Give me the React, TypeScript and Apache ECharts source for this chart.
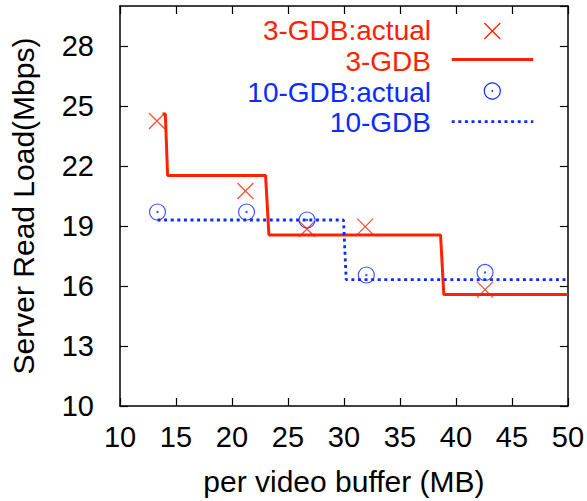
import React, { useEffect, useRef } from "react";
import * as echarts from "echarts";

const RED = "#ff2200";
const BLUE = "#0a2cff";
const FONT = "Liberation Sans";

// 3-GDB measured points
const redActualX = [13.3, 21.2, 26.7, 31.9, 42.6];
const redActualY = [24.25, 20.75, 18.85, 18.97, 15.82];
// 10-GDB measured points
const blueActualX = [13.35, 21.3, 26.7, 32.0, 42.6];
const blueActualY = [19.7, 19.7, 19.3, 16.55, 16.68];
// 3-GDB model (step)
const redLineX = [13.8, 14.05, 14.25, 23.0, 23.3, 38.63, 38.92, 50];
const redLineY = [24.6, 24.6, 21.53, 21.53, 18.55, 18.55, 15.57, 15.57];
// 10-GDB model (step)
const blueLineX = [13.35, 29.96, 30.2, 50];
const blueLineY = [19.3, 19.3, 16.32, 16.32];

const legendLabels = ["3-GDB:actual", "3-GDB", "10-GDB:actual", "10-GDB"];

const zip = (xs: number[], ys: number[]) => xs.map((x, i) => [x, ys[i]]);

const CROSS = "path://M0,0L16,16M16,0L0,16";
const CIRCLE =
  "path://M0,-8A8,8,0,1,1,0,8A8,8,0,1,1,0,-8ZM0,-0.6A0.6,0.6,0,1,1,0,0.6A0.6,0.6,0,1,1,0,-0.6Z";

export default function App() {
  const ref = useRef<HTMLDivElement>(null);
  useEffect(() => {
    if (!ref.current) return;
    const chart = echarts.init(ref.current, null, { renderer: "svg" });
    const axisLine = { show: true, lineStyle: { color: "#000", width: 1.5 } };
    const tick = { show: true, inside: true, length: 8, lineStyle: { color: "#000", width: 1.2 } };
    const legendRows = [30.5, 61, 92, 122.5];
    const legendColors = [RED, RED, BLUE, BLUE];
    const symX = 492.3;
    chart.setOption({
      animation: false,
      backgroundColor: "#fff",
      grid: { left: 117, right: 17, top: 6, bottom: 92, containLabel: false },
      xAxis: [
        {
          type: "value",
          min: 10,
          max: 50,
          interval: 5,
          position: "bottom",
          name: "per video buffer (MB)",
          nameLocation: "middle",
          nameGap: 60,
          nameTextStyle: { fontFamily: FONT, fontSize: 30, color: "#000" },
          axisLine,
          axisTick: tick,
          splitLine: { show: false },
          axisLabel: { fontFamily: FONT, fontSize: 29, color: "#000", margin: 16 },
        },
        {
          type: "value",
          min: 10,
          max: 50,
          interval: 5,
          position: "top",
          axisLine,
          axisTick: tick,
          splitLine: { show: false },
          axisLabel: { show: false },
        },
      ],
      yAxis: [
        {
          type: "value",
          min: 10,
          max: 30,
          interval: 3,
          position: "left",
          name: "Server Read Load(Mbps)",
          nameLocation: "middle",
          nameGap: 82,
          nameTextStyle: { fontFamily: FONT, fontSize: 30, color: "#000" },
          axisLine,
          axisTick: tick,
          splitLine: { show: false },
          axisLabel: {
            fontFamily: FONT,
            fontSize: 29,
            color: "#000",
            margin: 26,
            showMaxLabel: false,
          },
        },
        {
          type: "value",
          min: 10,
          max: 30,
          interval: 3,
          position: "right",
          axisLine,
          axisTick: tick,
          splitLine: { show: false },
          axisLabel: { show: false },
        },
      ],
      series: [
        {
          name: "3-GDB",
          type: "line",
          data: zip(redLineX, redLineY),
          showSymbol: false,
          lineStyle: { color: RED, width: 3 },
          z: 2,
        },
        {
          name: "10-GDB",
          type: "line",
          data: zip(blueLineX, blueLineY),
          showSymbol: false,
          lineStyle: { color: BLUE, width: 2.8, type: [3, 3.6] },
          z: 2,
        },
        {
          name: "3-GDB:actual",
          type: "scatter",
          data: zip(redActualX, redActualY),
          symbol: CROSS,
          symbolSize: 16,
          itemStyle: { color: "transparent", borderColor: RED, borderWidth: 1.3 },
          z: 3,
        },
        {
          name: "10-GDB:actual",
          type: "scatter",
          data: zip(blueActualX, blueActualY),
          symbol: CIRCLE,
          symbolSize: 16,
          itemStyle: { color: "transparent", borderColor: BLUE, borderWidth: 1.2 },
          z: 3,
        },
      ],
      graphic: [
        ...legendLabels.map((t, i) => ({
          type: "text",
          x: 431,
          y: legendRows[i],
          style: {
            text: t,
            fill: legendColors[i],
            fontFamily: FONT,
            fontSize: 28,
            lineHeight: 28,
            textAlign: "right",
            textVerticalAlign: "middle",
          },
        })),
        {
          type: "line",
          shape: { x1: symX - 8, y1: 31 - 8, x2: symX + 8, y2: 31 + 8 },
          style: { stroke: RED, lineWidth: 1.3 },
        },
        {
          type: "line",
          shape: { x1: symX + 8, y1: 31 - 8, x2: symX - 8, y2: 31 + 8 },
          style: { stroke: RED, lineWidth: 1.3 },
        },
        {
          type: "line",
          shape: { x1: 451.7, y1: 59.5, x2: 533.3, y2: 59.5 },
          style: { stroke: RED, lineWidth: 3 },
        },
        {
          type: "circle",
          shape: { cx: symX, cy: 91, r: 8 },
          style: { fill: "none", stroke: BLUE, lineWidth: 1.2 },
        },
        {
          type: "circle",
          shape: { cx: symX, cy: 91, r: 0.9 },
          style: { fill: BLUE },
        },
        {
          type: "line",
          shape: { x1: 451.7, y1: 121.7, x2: 533.3, y2: 121.7 },
          style: { stroke: BLUE, lineWidth: 2.8, lineDash: [3, 3.6] },
        },
      ],
    });
    return () => chart.dispose();
  }, []);
  return <div ref={ref} style={{ width: 587, height: 501, position: "absolute", left: 0, top: 0 }} />;
}
